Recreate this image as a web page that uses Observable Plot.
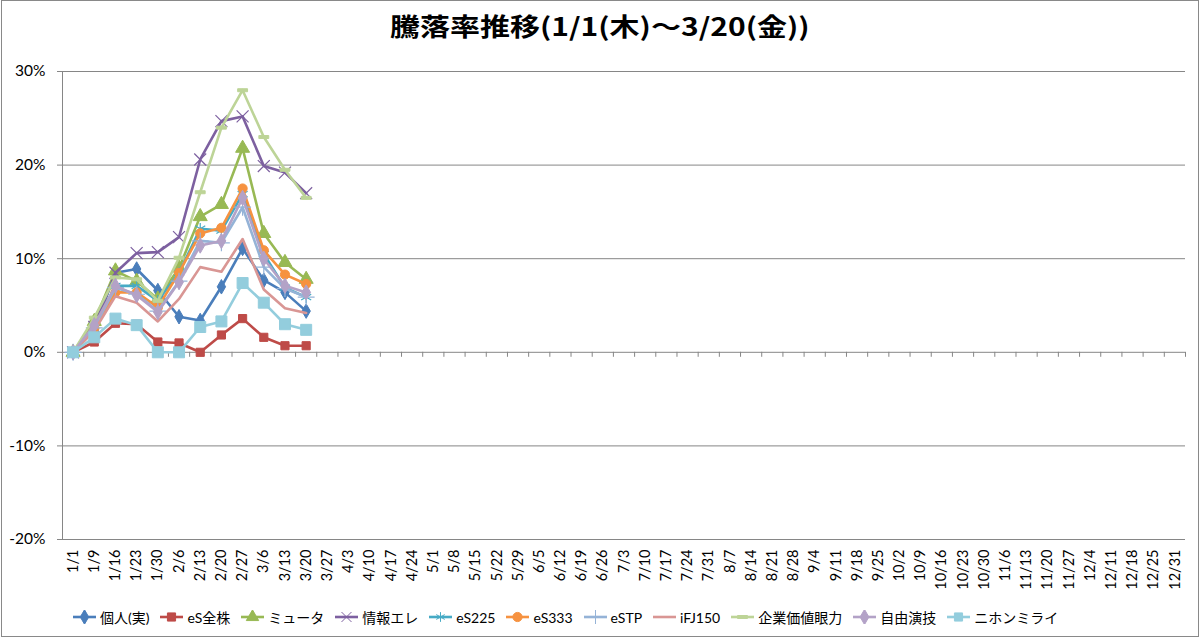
<!DOCTYPE html>
<html><head><meta charset="utf-8">
<script src="https://cdn.jsdelivr.net/npm/d3@7"></script>
<script src="https://cdn.jsdelivr.net/npm/@observablehq/plot@0.6"></script>
<style>
body{margin:0;background:#fff;}
#chart{position:relative;width:1200px;height:638px;font-family:Lato,"Noto Sans CJK JP",sans-serif;color:#000;overflow:hidden;}
#frame{position:absolute;left:1px;top:0;width:1196px;height:635px;border:1px solid #898989;}
#title{position:absolute;top:10px;left:0;width:1200px;text-align:center;font-size:25px;font-weight:bold;line-height:30px;font-family:"Noto Sans CJK JP",Lato,sans-serif;transform:scaleX(1.2);transform-origin:601px 50%;}
#plot{position:absolute;left:0;top:56px;}
#legend{position:absolute;left:73px;top:607px;display:flex;align-items:center;font-size:14px;height:20px;white-space:nowrap;}
.item{display:flex;align-items:center;margin-right:11px;}
.item span{margin-left:4px;}
</style></head><body>
<div id="chart"><div id="frame"></div><div id="title">騰落率推移(1/1(木)～3/20(金))</div><div id="plot"></div><div id="legend"></div></div>
<script>
// ---- data ----
const dates = ["1/1","1/9","1/16","1/23","1/30","2/6","2/13","2/20","2/27","3/6","3/13","3/20","3/27","4/3","4/10","4/17","4/24","5/1","5/8","5/15","5/22","5/29","6/5","6/12","6/19","6/26","7/3","7/10","7/17","7/24","7/31","8/7","8/14","8/21","8/28","9/4","9/11","9/18","9/25","10/2","10/9","10/16","10/23","10/30","11/6","11/13","11/20","11/27","12/4","12/11","12/18","12/25","12/31"];
const seriesNames = ["個人(実)","eS全株","ミュータ","情報エレ","eS225","eS333","eSTP","iFJ150","企業価値眼力","自由演技","ニホンミライ"];
const kojin  = [0, 2.5, 8.5, 8.9, 6.6, 3.8, 3.4, 7.0, 11.1, 7.7, 6.4, 4.4];
const esZen  = [0, 1.1, 3.1, 3.0, 1.1, 1.0, 0.0, 1.85, 3.6, 1.6, 0.7, 0.7];
const myuta  = [0, 3.3, 8.7, 7.6, 5.7, 9.0, 14.5, 15.8, 21.8, 12.7, 9.6, 7.8];
const joho   = [0, 2.7, 8.5, 10.6, 10.7, 12.3, 20.6, 24.7, 25.2, 19.9, 19.2, 17.0];
const es225  = [0, 2.8, 7.1, 7.1, 5.5, 8.5, 13.2, 13.0, 16.9, 10.5, 6.9, 5.9];
const es333  = [0, 2.6, 6.4, 6.4, 4.8, 8.5, 12.7, 13.3, 17.5, 10.9, 8.3, 7.3];
const estp   = [0, 2.6, 6.9, 6.2, 4.4, 7.6, 11.9, 11.7, 15.5, 9.1, 6.8, 5.9];
const ifj150 = [0, 2.3, 6.0, 5.3, 3.3, 5.7, 9.1, 8.6, 12.1, 6.7, 4.7, 4.2];
const kigyo  = [0, 3.7, 8.0, 7.8, 5.5, 10.1, 17.1, 24.0, 28.0, 23.0, 19.5, 16.5];
const jiyu   = [0, 2.9, 7.1, 6.1, 4.3, 7.5, 11.4, 11.9, 16.5, 10.0, 7.1, 6.4];
const nihon  = [0, 1.6, 3.6, 2.9, 0.0, 0.0, 2.7, 3.3, 7.4, 5.3, 3.0, 2.4];
const seriesValues = [kojin, esZen, myuta, joho, es225, es333, estp, ifj150, kigyo, jiyu, nihon];
const yTicks = [-20, -10, 0, 10, 20, 30];

// ---- styles ----
const dash = {draw(ctx, size){ const w = Math.sqrt(size) * 0.62; ctx.rect(-w, -1.5, 2*w, 3); }};
const styles = [
  {color:"#4A7EBB", symbol:"diamond", r:4.4, filled:true},
  {color:"#BE4B48", symbol:"square", r:4.6, filled:true},
  {color:"#98B954", symbol:"triangle", r:5.2, filled:true},
  {color:"#7D60A0", symbol:"times", r:5.5, filled:false},
  {color:"#46AAC5", symbol:"asterisk", r:5.5, filled:false},
  {color:"#F69240", symbol:"circle", r:4.6, filled:true},
  {color:"#95B3D7", symbol:"plus", r:5.5, filled:false},
  {color:"#D99694", symbol:null},
  {color:"#BDD497", symbol:dash, r:4.5, filled:true},
  {color:"#B3A2C7", symbol:"diamond", r:4.6, filled:true},
  {color:"#93CDDD", symbol:"square", r:6.2, filled:true}
];

const grid = "#868686";
const marks = [
  Plot.ruleY(yTicks, {stroke: grid, strokeWidth: 1, insetLeft: -5}),
  Plot.ruleX([-0.5], {stroke: grid, strokeWidth: 1}),
  Plot.ruleX(d3.range(54).map(i => i - 0.5), {y1: 0, y2: 0, insetBottom: -5, stroke: grid}),
  Plot.axisY({ticks: yTicks, tickFormat: d => d + "%", tickSize: 0, tickPadding: 17, fontSize: 15.5, label: null, fill: "#000"}),
  Plot.axisX({ticks: d3.range(dates.length), tickFormat: i => dates[i], tickRotate: -90, tickSize: 0, tickPadding: 10, fontSize: 14.5, label: null, fill: "#000"})
];
seriesNames.forEach((name, k) => {
  const s = styles[k];
  const d = seriesValues[k].map((v, i) => ({i, v}));
  marks.push(Plot.line(d, {x: "i", y: "v", stroke: s.color, strokeWidth: 2.6, strokeLinejoin: "round", strokeLinecap: "round"}));
  if (s.symbol) marks.push(Plot.dot(d, {x: "i", y: "v", symbol: s.symbol, r: s.r, fill: s.filled ? s.color : "none", stroke: s.color, strokeWidth: s.filled ? 1 : 1.2}));
});

const chart = Plot.plot({
  width: 1200, height: 550,
  marginTop: 15, marginBottom: 67, marginLeft: 62, marginRight: 15,
  style: {fontFamily: 'Lato, "Noto Sans CJK JP", sans-serif', color: "#000", background: "transparent"},
  x: {type: "linear", domain: [-0.5, dates.length - 0.5]},
  y: {type: "linear", domain: [-20, 30]},
  marks
});
document.getElementById("plot").appendChild(chart);

// ---- legend ----
const leg = d3.select("#legend");
seriesNames.forEach((name, k) => {
  const s = styles[k];
  const it = leg.append("div").attr("class", "item");
  const sv = it.append("svg").attr("width", 23).attr("height", 14);
  sv.append("line").attr("x1", 0).attr("x2", 23).attr("y1", 7).attr("y2", 7).attr("stroke", s.color).attr("stroke-width", 2.6);
  if (s.symbol) {
    const map = {diamond: d3.symbolDiamond, square: d3.symbolSquare, triangle: d3.symbolTriangle, times: d3.symbolTimes, asterisk: d3.symbolAsterisk, circle: d3.symbolCircle, plus: d3.symbolPlus};
    const t = typeof s.symbol === "string" ? map[s.symbol] : s.symbol;
    const r = Math.min(s.r, 4.6);
    sv.append("path").attr("transform", "translate(11.5,7)").attr("d", d3.symbol(t, Math.PI * r * r)())
      .attr("fill", s.filled ? s.color : "none").attr("stroke", s.color).attr("stroke-width", 1);
  }
  it.append("span").text(name);
});
</script>
</body></html>
